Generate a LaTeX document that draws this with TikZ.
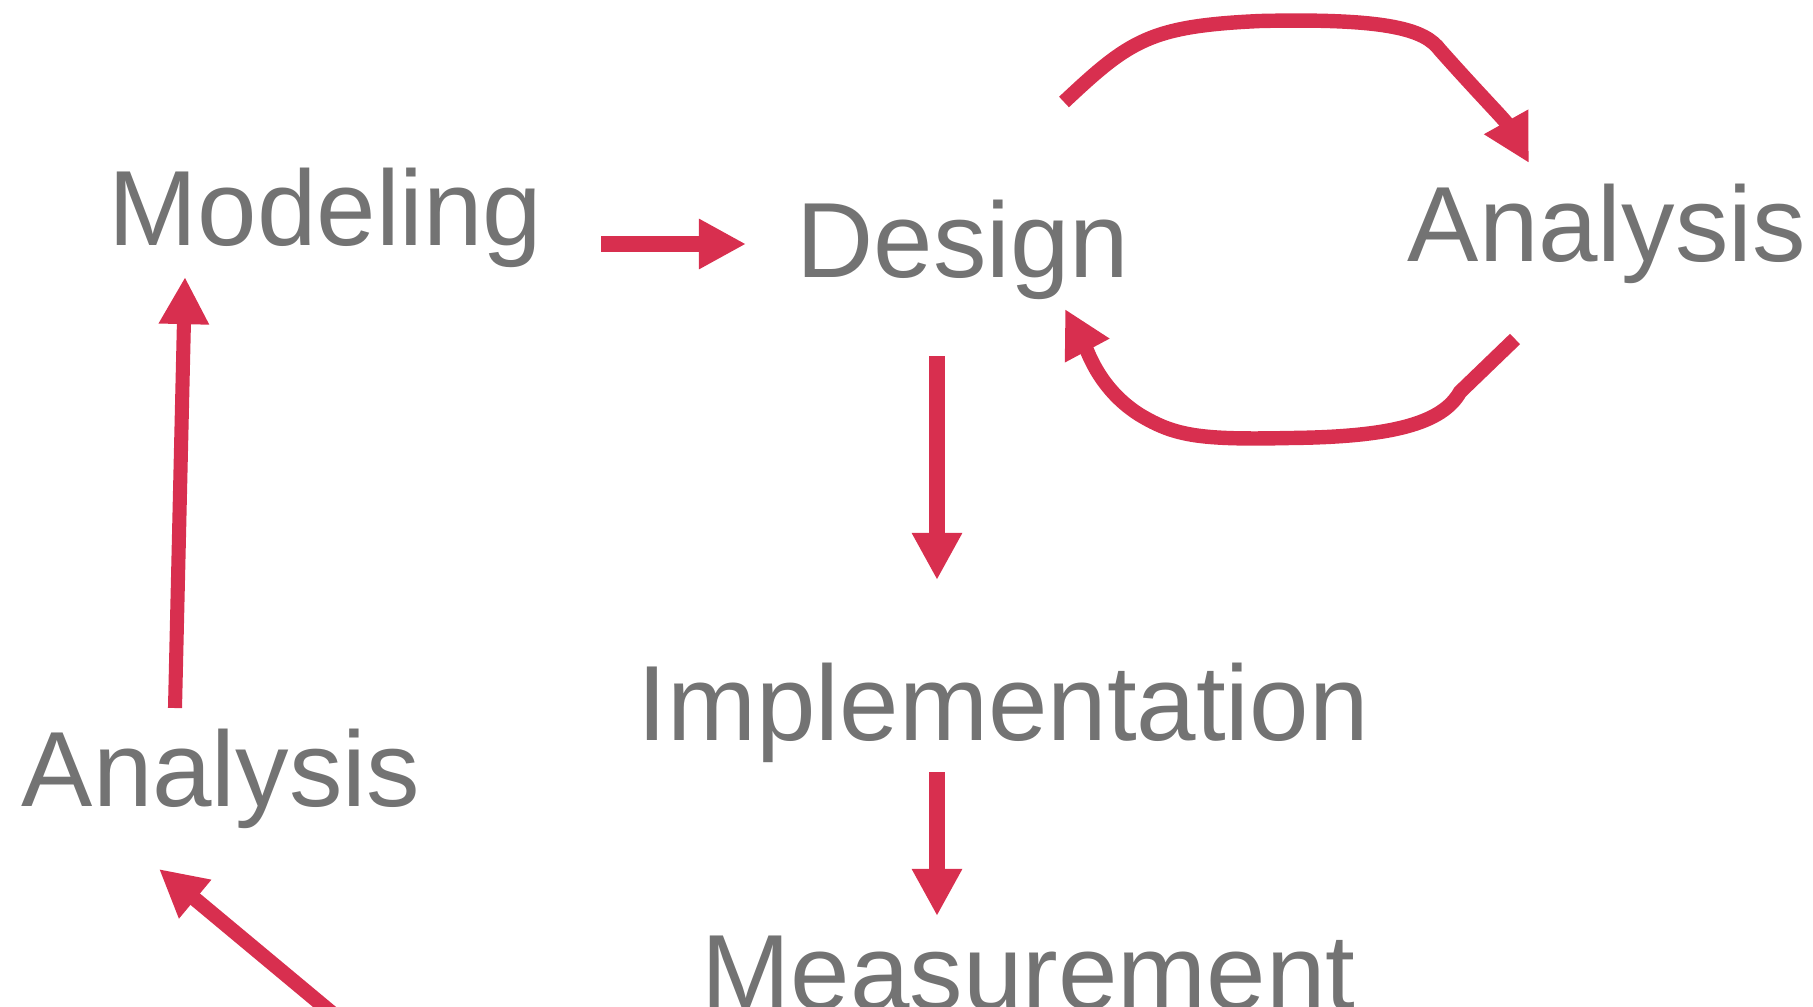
\documentclass[tikz,border=0pt]{standalone}
\usepackage{fontspec}
\usepackage{tikz}
\usetikzlibrary{calc}
\usetikzlibrary{arrows.meta}
\newfontfamily\labelfont{Liberation Sans}
\definecolor{arrowred}{HTML}{D82F4F}
\definecolor{labelgray}{HTML}{737373}

\begin{document}
\begin{tikzpicture}[x=0.01cm,y=-0.01cm,
  word/.style={anchor=base west,inner sep=0pt,text=labelgray,font=\labelfont\fontsize{30.4}{36}\selectfont},
  blockarrow/.style={draw=arrowred,line width=4.55pt,-{Triangle[length=13.4pt,width=13.4pt]}},
  curvearrow/.style={draw=arrowred,line width=4.1pt,-{Triangle[length=13.4pt,width=13.4pt]}}]
\useasboundingbox (0,0) rectangle (1813,1006);
\clip (0,0) rectangle (1813,1006);

% Stages
\node[word] (modeling) at (108,245) {Modeling};
\node[word] (design) at (796,277) {Design};
\node[word] (analysisR) at (1407,261) {Analysis};
\node[word] (implementation) at (637,740) {Implementation};
\node[word] (analysisL) at (21,806) {Analysis};
\node[word] (measurement) at (701,1009) {Measurement};

% Straight arrows
\draw[blockarrow] ($(modeling.base west)+(493,-1)$) -- ($(design.base west)+(-50,-33)$);
\draw[blockarrow] ($(design.base west)+(141,79)$) -- ($(implementation.base west)+(300,-160)$);
\draw[blockarrow] ($(implementation.base west)+(300,32)$) -- ($(measurement.base west)+(236,-93)$);
\draw[blockarrow,line width=4pt] ($(analysisL.base west)+(154,-98)$) -- ($(modeling.base west)+(77,32)$);

% Arrow coming in from below
\coordinate (tail) at (345,1024);
\draw[blockarrow,line width=4.2pt] (tail) -- ($(analysisL.base west)+(138,63)$);

% Design <-> Analysis loop
\draw[curvearrow] ($(design.base west)+(268,-175)$) .. controls (1130,40) and (1150,26) .. (1260,21)
  .. controls (1390,18) and (1425,30) .. (1440,50)
  .. controls (1480,95) and (1505,120) .. ($(analysisR.base west)+(122,-98)$);
\draw[curvearrow] ($(analysisR.base west)+(108,78)$) -- (1460,392)
  .. controls (1442,424) and (1390,437) .. (1290,438)
  .. controls (1200,440) and (1175,436) .. (1140,415)
  .. controls (1100,390) and (1088,352) .. ($(design.base west)+(269,32)$);
\end{tikzpicture}
\end{document}
